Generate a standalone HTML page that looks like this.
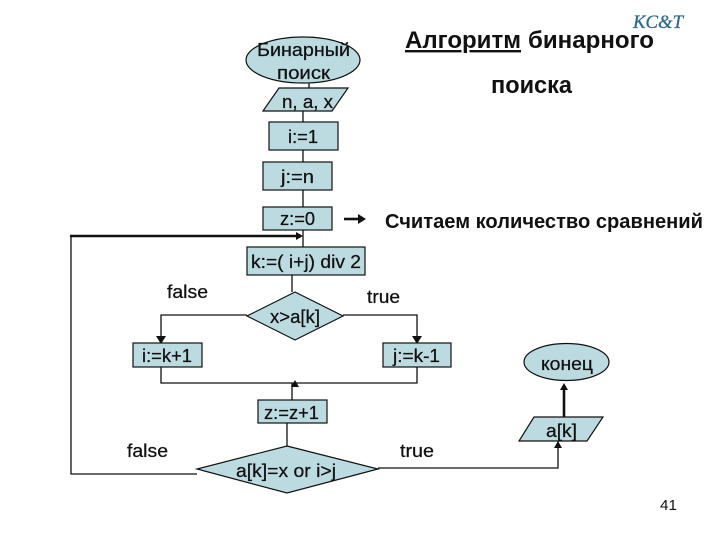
<!DOCTYPE html>
<html lang="ru">
<head>
<meta charset="utf-8">
<style>
html,body{margin:0;padding:0;background:#fff;width:720px;height:540px;overflow:hidden}
svg{display:block}
text{font-family:"Liberation Sans",sans-serif;fill:#111;font-size:18px;stroke:#111;stroke-width:.25}
.b{font-weight:bold;stroke-width:0}
.s{fill:#bcdbe0;stroke:#111;stroke-width:1.2}
.l{fill:none;stroke:#111;stroke-width:1.3}
.t{fill:none;stroke:#111;stroke-width:2.6}
.h{fill:#111;stroke:none}
</style>
</head>
<body>
<svg width="720" height="540" viewBox="0 0 720 540" xmlns="http://www.w3.org/2000/svg">
<!-- connectors -->
<path class="l" d="M309 83V88M303 111V122M303 150V162M303 190V207M303 230V247M292 275V292"/>
<path class="l" d="M247 315H161V343M343 315H417V343"/>
<path class="l" d="M161 367V383H417V367M292 400V383M287 423V446"/>
<path class="l" d="M197 474H71V236"/>
<path class="l" d="M378 468H558V441"/>
<path class="t" d="M70 236H298"/>
<path class="t" d="M564 417V389"/>
<path class="t" d="M344 219H360"/>
<!-- arrowheads -->
<polygon class="h" points="303,236 296,232 296,240"/>
<polygon class="h" points="161,344 156,336 166,336"/>
<polygon class="h" points="417,344 412,336 422,336"/>
<polygon class="h" points="295,380 291,387 299,387"/>
<polygon class="h" points="564,383 560,390 568,390"/>
<polygon class="h" points="558,441 554,448 562,448"/>
<polygon class="h" points="366,219 358,214 358,224"/>
<!-- shapes -->
<ellipse class="s" cx="303" cy="60" rx="57" ry="23"/>
<polygon class="s" points="279,88 348,88 332,111 263,111"/>
<rect class="s" x="269" y="122" width="69" height="28"/>
<rect class="s" x="263" y="162" width="69" height="28"/>
<rect class="s" x="263" y="207" width="69" height="23"/>
<rect class="s" x="247" y="247" width="118" height="28"/>
<polygon class="s" points="295,292 343,316 295,340 247,316"/>
<rect class="s" x="133" y="343" width="69" height="24"/>
<rect class="s" x="383" y="343" width="68" height="24"/>
<ellipse class="s" cx="566.500" cy="362" rx="42.500" ry="18.500"/>
<rect class="s" x="258" y="400" width="69" height="23"/>
<polygon class="s" points="287,446 378,469 287,493 197,469"/>
<polygon class="s" points="534,417 603,417 587,441 519,441"/>
<!-- node labels -->
<text x="257" y="56" textLength="93" lengthAdjust="spacingAndGlyphs">Бинарный</text>
<text x="277" y="79" textLength="53" lengthAdjust="spacingAndGlyphs">поиск</text>
<text x="282" y="108" textLength="51" lengthAdjust="spacingAndGlyphs">n, a, x</text>
<text x="288" y="143" textLength="30" lengthAdjust="spacingAndGlyphs">i:=1</text>
<text x="281" y="183" textLength="33" lengthAdjust="spacingAndGlyphs">j:=n</text>
<text x="280" y="225" textLength="35" lengthAdjust="spacingAndGlyphs">z:=0</text>
<text x="251" y="268" textLength="110" lengthAdjust="spacingAndGlyphs">k:=( i+j) div 2</text>
<text x="270" y="323" textLength="50" lengthAdjust="spacingAndGlyphs">x&gt;a[k]</text>
<text x="142" y="362" textLength="50" lengthAdjust="spacingAndGlyphs">i:=k+1</text>
<text x="393" y="362" textLength="47" lengthAdjust="spacingAndGlyphs">j:=k-1</text>
<text x="541" y="370" textLength="52" lengthAdjust="spacingAndGlyphs">конец</text>
<text x="264" y="419" textLength="55" lengthAdjust="spacingAndGlyphs">z:=z+1</text>
<text x="236" y="477" textLength="100" lengthAdjust="spacingAndGlyphs">a[k]=x or i&gt;j</text>
<text x="546" y="437" textLength="31" lengthAdjust="spacingAndGlyphs">a[k]</text>
<!-- free labels -->
<text x="167" y="298" textLength="41" lengthAdjust="spacingAndGlyphs">false</text>
<text x="367" y="303" textLength="33" lengthAdjust="spacingAndGlyphs">true</text>
<text x="127" y="457" textLength="41" lengthAdjust="spacingAndGlyphs">false</text>
<text x="400" y="457" textLength="34" lengthAdjust="spacingAndGlyphs">true</text>
<text x="660" y="510" textLength="17" lengthAdjust="spacingAndGlyphs" style="font-size:15px;stroke-width:0">41</text>
<!-- titles -->
<text class="b" x="405" y="48" textLength="116" lengthAdjust="spacingAndGlyphs" style="font-size:24px;text-decoration:underline">Алгоритм</text>
<text class="b" x="528" y="48" textLength="126" lengthAdjust="spacingAndGlyphs" style="font-size:24px">бинарного</text>
<text class="b" x="491" y="93" textLength="81" lengthAdjust="spacingAndGlyphs" style="font-size:24px">поиска</text>
<text class="b" x="385" y="228" textLength="318" lengthAdjust="spacingAndGlyphs" style="font-size:20px">Считаем количество сравнений</text>
<!-- logo -->
<text x="633" y="28" textLength="50" lengthAdjust="spacingAndGlyphs" style="font-family:'Liberation Serif',serif;font-weight:normal;font-style:italic;font-size:19px;fill:#2b6a8c;stroke:#2b6a8c;stroke-width:.3">KC&amp;T</text>
</svg>
</body>
</html>
